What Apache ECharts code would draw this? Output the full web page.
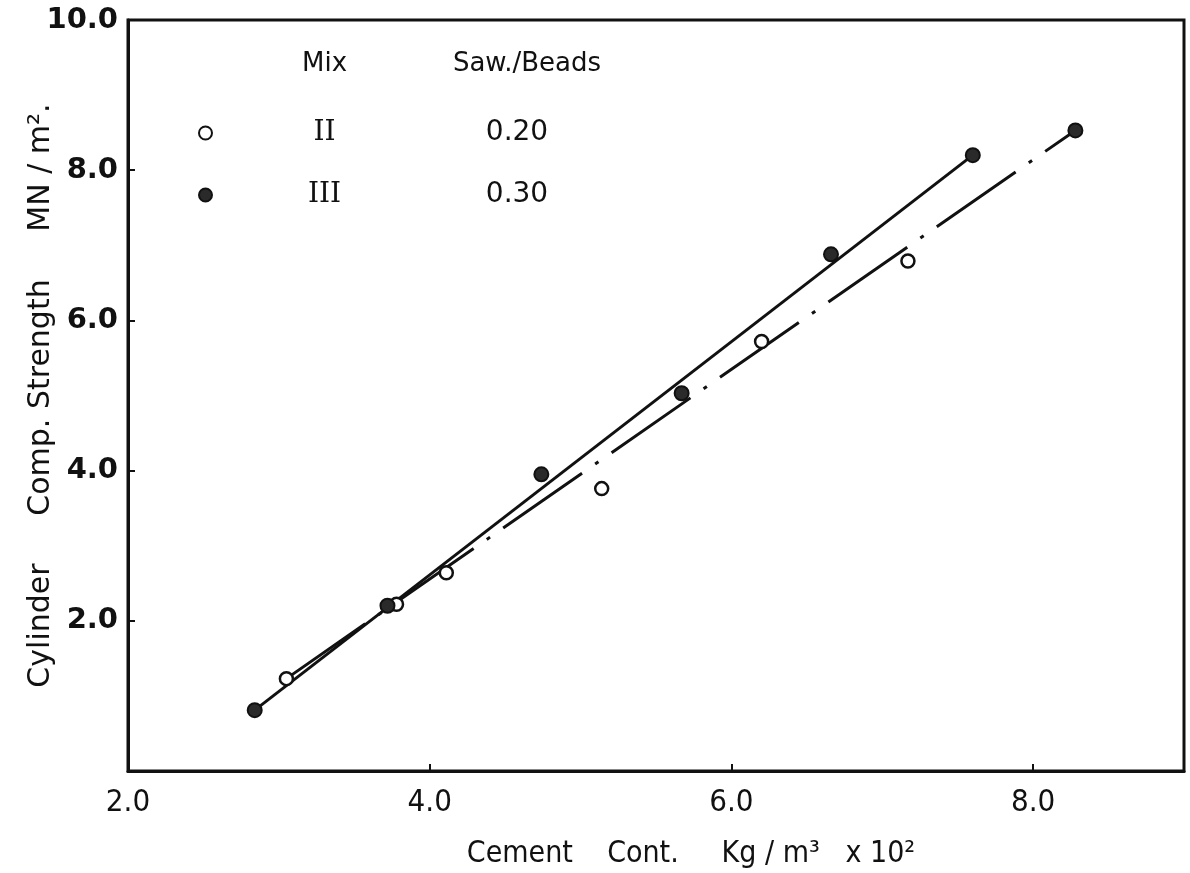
<!DOCTYPE html>
<html>
<head>
<meta charset="utf-8">
<title>Cylinder Comp. Strength</title>
<script src="https://cdn.jsdelivr.net/npm/echarts@6/dist/echarts.min.js"></script>
<style>
	html, body { margin: 0; padding: 0; background: #fff; }
	#main { width: 1190px; height: 873px; }
</style>
</head>
<body>
<div id="main"></div>
<script>
	// legend table rows
	var mixNames = ['II', 'III'];
	var sawBeads = ['0.20', '0.30'];

	// measured points [cement content, strength]
	var mixII = [[3.05, 1.23], [3.78, 2.22], [4.11, 2.64], [5.14, 3.76], [6.20, 5.72], [7.17, 6.79]];
	var mixIII = [[2.84, 0.81], [3.72, 2.20], [4.74, 3.95], [5.67, 5.03], [6.66, 6.88], [7.60, 8.20], [8.28, 8.53]];

	// fitted lines (end points)
	var solidLine = [[2.84, 0.81], [7.60, 8.20]];
	var dashLine = [[3.05, 1.23], [8.28, 8.53]];

	var ink = '#111';
	var fontA = "'DejaVu Sans', sans-serif";
	var fontB = "'DejaVu Sans Condensed', 'Liberation Sans Narrow', 'DejaVu Sans', sans-serif";

	var myChart = echarts.init(document.getElementById('main'));

	var option = {
		backgroundColor: '#fff',
		animation: false,
		title: {
			text: '{a|Mix}{b|Saw./Beads}',
			left: 212,
			top: 46,
			textStyle: {
				fontWeight: 'normal',
				rich: {
					a: { width: 215, align: 'center', fontSize: 26, fontWeight: 'normal', color: ink, fontFamily: fontA },
					b: { width: 190, align: 'center', fontSize: 26, fontWeight: 'normal', color: ink, fontFamily: fontA }
				}
			}
		},
		legend: {
			orient: 'vertical',
			left: 193,
			top: 114,
			itemGap: 34,
			itemWidth: 13,
			itemHeight: 13,
			data: mixNames,
			formatter: function(name) {
				return '{n|' + name + '}{v|' + sawBeads[mixNames.indexOf(name)] + '}';
			},
			textStyle: {
				rich: {
					n: { width: 215, align: 'center', fontSize: 28, color: ink, fontFamily: "'DejaVu Serif', serif" },
					v: { width: 170, align: 'center', fontSize: 28, color: ink, fontFamily: fontA }
				}
			}
		},
		grid: {
			left: 128,
			right: 6,
			top: 20,
			bottom: 102,
			outerBoundsMode: 'none',
			show: true,
			borderColor: ink,
			borderWidth: 3
		},
		xAxis: {
			type: 'value',
			min: 2,
			max: 9,
			interval: 2,
			name: 'Cement    Cont.     Kg / m³   x 10²',
			nameLocation: 'middle',
			nameGap: 68,
			nameTextStyle: { fontSize: 30, color: ink, fontFamily: fontB, padding: [0, 0, 0, 70] },
			axisLine: { lineStyle: { color: ink, width: 3 } },
			axisTick: { inside: true, length: 7, lineStyle: { color: ink, width: 2 } },
			axisLabel: {
				showMaxLabel: false,
				margin: 16,
				fontSize: 31,
				color: ink,
				fontFamily: fontB,
				formatter: function(v) { return v.toFixed(1); }
			},
			splitLine: { show: false }
		},
		yAxis: {
			type: 'value',
			min: 0,
			max: 10,
			interval: 2,
			name: 'Cylinder     Comp. Strength     MN / m².',
			nameLocation: 'middle',
			nameGap: 72,
			nameMoveOverlap: false,
			nameTextStyle: { fontSize: 30, color: ink, fontFamily: fontA },
			axisLine: { lineStyle: { color: ink, width: 3 } },
			axisTick: { inside: true, length: 7, lineStyle: { color: ink, width: 2 } },
			axisLabel: {
				showMinLabel: false,
				margin: 10,
				fontSize: 29,
				fontWeight: 'bold',
				color: ink,
				fontFamily: fontA,
				formatter: function(v) { return v.toFixed(1); }
			},
			splitLine: { show: false }
		},
		series: [{
			name: 'solid',
			type: 'line',
			data: solidLine,
			symbol: 'none',
			lineStyle: { color: ink, width: 3 },
			z: 2
		}, {
			name: 'dashdot',
			type: 'line',
			data: dashLine,
			symbol: 'none',
			lineStyle: { color: ink, width: 3, type: [96, 16, 4, 16] },
			z: 2
		}, {
			name: 'II',
			type: 'scatter',
			data: mixII,
			symbol: 'circle',
			symbolSize: 13,
			itemStyle: { color: '#fff', borderColor: ink, borderWidth: 2.5, opacity: 1 },
			z: 3
		}, {
			name: 'III',
			type: 'scatter',
			data: mixIII,
			symbol: 'circle',
			symbolSize: 14,
			itemStyle: { color: '#2a2a2a', borderColor: ink, borderWidth: 2, opacity: 1 },
			z: 3
		}]
	};

	myChart.setOption(option, true);
	window.onresize = function() {
		myChart.resize();
	};
</script>
</body>
</html>
